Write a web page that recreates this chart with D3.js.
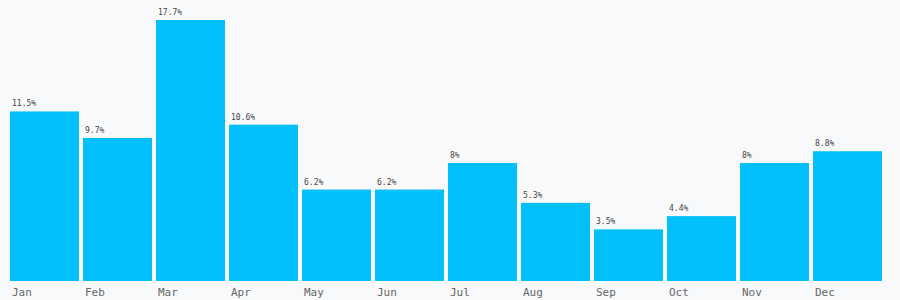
<!DOCTYPE html>
<html><head><meta charset="utf-8">
<script src="https://cdn.jsdelivr.net/npm/d3@7"></script>
<style>
html,body{margin:0;padding:0;background:#f8f9fb;}
svg{display:block;}
</style></head>
<body>
<svg id="chart" width="900" height="300"></svg>
<script>
const months = ["Jan","Feb","Mar","Apr","May","Jun","Jul","Aug","Sep","Oct","Nov","Dec"];
const values = [11.5, 9.7, 17.7, 10.6, 6.2, 6.2, 8, 5.3, 3.5, 4.4, 8, 8.8];

const svg = d3.select("#chart");
const x = d3.scaleBand().domain(months).range([10, 882]).paddingInner(4/73).paddingOuter(0);
const y = d3.scaleLinear().domain([0, d3.max(values)]).range([281, 20]);

svg.append("rect").attr("width", 900).attr("height", 300).attr("fill", "#f8f9fb");

const g = svg.append("g");
g.selectAll("rect.bar").data(months).join("rect")
  .attr("class", "bar")
  .attr("x", d => x(d))
  .attr("y", (d, i) => y(values[i]))
  .attr("width", x.bandwidth())
  .attr("height", (d, i) => y(0) - y(values[i]))
  .attr("fill", "#03bffa");

g.selectAll("text.val").data(months).join("text")
  .attr("class", "val")
  .attr("x", d => x(d) + 2)
  .attr("y", (d, i) => y(values[i]) - 5)
  .attr("font-family", "DejaVu Sans Mono, monospace")
  .attr("font-size", 8)
  .attr("fill", "#444")
  .text((d, i) => values[i] + "%");

const xAxis = d3.axisBottom(x).tickSize(0).tickPadding(0);
const ax = svg.append("g").attr("transform", "translate(0,281)").call(xAxis);
ax.select(".domain").remove();
ax.selectAll("text")
  .attr("text-anchor", "start")
  .attr("x", -x.bandwidth()/2 + 2)
  .attr("y", 15)
  .attr("dy", 0)
  .attr("font-family", "DejaVu Sans Mono, monospace")
  .attr("font-size", 11)
  .attr("fill", "#666");
</script>
</body></html>
